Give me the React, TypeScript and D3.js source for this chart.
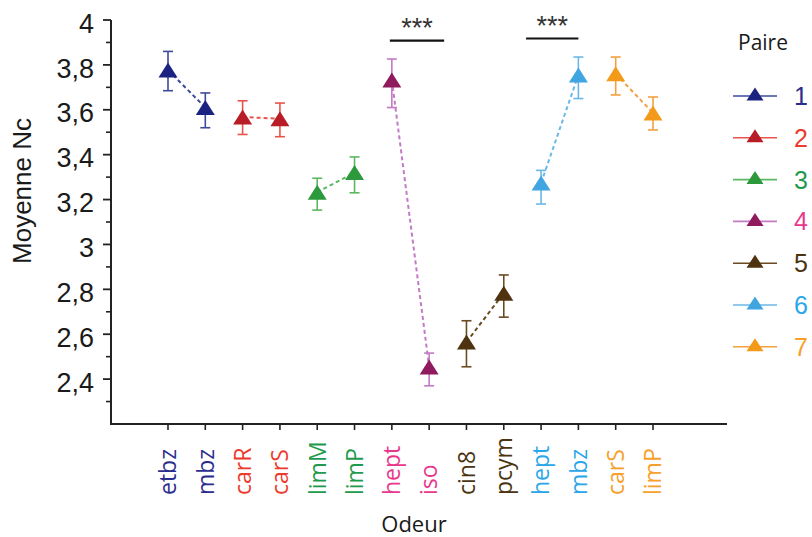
import React from "react";
import * as d3 from "d3";

const odeurs = ["etbz", "mbz", "carR", "carS", "limM", "limP", "hept", "iso", "cin8", "pcym", "hept", "mbz", "carS", "limP"];
const paires = [1, 1, 2, 2, 3, 3, 4, 4, 5, 5, 6, 6, 7, 7];
const moyennes = [3.777, 3.61, 3.568, 3.56, 3.233, 3.32, 3.733, 2.454, 2.565, 2.783, 3.274, 3.755, 3.76, 3.586];
const errHaut = [3.86, 3.675, 3.64, 3.63, 3.295, 3.39, 3.826, 2.516, 2.66, 2.864, 3.33, 3.835, 3.835, 3.657];
const errBas = [3.685, 3.52, 3.49, 3.48, 3.153, 3.23, 3.61, 2.37, 2.455, 2.676, 3.18, 3.65, 3.666, 3.51];
const paireLabels = ["1", "2", "3", "4", "5", "6", "7"];
const couleursMarqueur = ["#1b2380", "#b81d27", "#2c993d", "#8f1a5e", "#4f3311", "#41a5e2", "#f39a1a"];
const couleursLigne = ["#3d4a9c", "#e8534a", "#5cb860", "#c27ac4", "#6a4a20", "#6ab8e8", "#f4a040"];
const couleursTexte = ["#2b2d8e", "#ec3a2e", "#1f9a4d", "#e8388c", "#4a3410", "#2ba6e8", "#f7a02c"];
const yTicksMajeurs = [2.4, 2.6, 2.8, 3, 3.2, 3.4, 3.6, 3.8, 4];
const yTicksMineurs = [2.3, 2.5, 2.7, 2.9, 3.1, 3.3, 3.5, 3.7, 3.9];
const significatifs = [
  { a: 6, b: 7, label: "***" },
  { a: 10, b: 11, label: "***" },
];

const W = 812;
const H = 537;

function triangle(cx: number, cy: number, w: number, h: number) {
  const p = d3.path();
  p.moveTo(cx, cy - h / 2);
  p.lineTo(cx + w / 2, cy + h / 2);
  p.lineTo(cx - w / 2, cy + h / 2);
  p.closePath();
  return p.toString();
}

export default function App() {
  const x = d3.scaleLinear().domain([0, odeurs.length - 1]).range([168, 653]);
  const y = d3.scaleLinear().domain([2.2, 4]).range([424, 20]);
  const fmt = (v: number) => d3.format("~g")(v).replace(".", ",");
  const axisFont = "'Liberation Sans', Arial, sans-serif";
  const labelFont = "'Open Sans', 'Noto Sans', sans-serif";

  const paireIds = Array.from(new Set(paires));
  const line = d3
    .line<number>()
    .x((i) => x(i))
    .y((i) => y(moyennes[i]));

  const sigOffsets = [
    { x0: -2, x1: 15, yLine: 40.7, yText: 37 },
    { x0: -15, x1: 0, yLine: 38.5, yText: 34.5 },
  ];

  return (
    <svg width={W} height={H} style={{ position: "absolute", left: 0, top: 0, background: "#fff" }}>
      {/* Y axis */}
      <line x1={111} x2={111} y1={y(4)} y2={y(2.2) + 1} stroke="#222" strokeWidth={2} />
      {yTicksMajeurs.map((t) => (
        <g key={"M" + t}>
          <line x1={103} x2={111} y1={y(t)} y2={y(t)} stroke="#222" strokeWidth={1.8} />
          <text x={94} y={y(t) + 3} dy="0.36em" textAnchor="end" fontFamily={axisFont} fontSize={27} fill="#1a1a1a">
            {fmt(t)}
          </text>
        </g>
      ))}
      {yTicksMineurs.map((t) => (
        <line key={"m" + t} x1={106} x2={111} y1={y(t)} y2={y(t)} stroke="#222" strokeWidth={1.6} />
      ))}
      <text
        transform={`translate(31,191) rotate(-90)`}
        textAnchor="middle"
        fontFamily={axisFont}
        fontSize={26}
        fill="#1a1a1a"
      >
        Moyenne Nc
      </text>

      {/* X axis */}
      <line x1={110} x2={727} y1={y(2.2)} y2={y(2.2)} stroke="#222" strokeWidth={2} />
      {odeurs.map((o, i) => (
        <g key={"x" + i}>
          <line x1={x(i)} x2={x(i)} y1={y(2.2)} y2={y(2.2) + 6} stroke="#222" strokeWidth={1.6} />
          <text
            transform={`translate(${x(i)},495) rotate(-90)`}
            dy="0.36em"
            textAnchor="start"
            fontFamily={labelFont}
            fontSize={23}
            fill={couleursTexte[paires[i] - 1]}
          >
            {o}
          </text>
        </g>
      ))}
      <text x={414} y={532} textAnchor="middle" fontFamily={labelFont} fontSize={22} fill="#1a1a1a">
        Odeur
      </text>

      {/* dashed pair lines */}
      {paireIds.map((p) => {
        const idx = paires.map((q, i) => (q === p ? i : -1)).filter((i) => i >= 0);
        return (
          <path
            key={"l" + p}
            d={line(idx) || ""}
            fill="none"
            stroke={couleursLigne[p - 1]}
            strokeWidth={2}
            strokeDasharray="4 3"
          />
        );
      })}

      {/* error bars */}
      {moyennes.map((m, i) => {
        const c = couleursLigne[paires[i] - 1];
        return (
          <g key={"e" + i} stroke={c} strokeWidth={1.6}>
            <line x1={x(i)} x2={x(i)} y1={y(errHaut[i])} y2={y(errBas[i])} />
            <line x1={x(i) - 5} x2={x(i) + 5} y1={y(errHaut[i])} y2={y(errHaut[i])} />
            <line x1={x(i) - 5} x2={x(i) + 5} y1={y(errBas[i])} y2={y(errBas[i])} />
          </g>
        );
      })}

      {/* markers */}
      {moyennes.map((m, i) => (
        <path key={"t" + i} d={triangle(x(i), y(m), 19, 15)} fill={couleursMarqueur[paires[i] - 1]} />
      ))}

      {/* significance */}
      {significatifs.map((s, k) => {
        const o = sigOffsets[k];
        const x0 = x(s.a) + o.x0;
        const x1 = x(s.b) + o.x1;
        return (
          <g key={"s" + k}>
            <line x1={x0} x2={x1} y1={o.yLine} y2={o.yLine} stroke="#111" strokeWidth={2.2} />
            <text x={(x0 + x1) / 2} y={o.yText} textAnchor="middle" fontFamily={axisFont} fontSize={27} fill="#333">
              {s.label}
            </text>
          </g>
        );
      })}

      {/* legend */}
      <text x={763} y={50} textAnchor="middle" fontFamily={labelFont} fontSize={21} fill="#1a1a1a">
        Paire
      </text>
      {paireLabels.map((lab, k) => {
        const cy = 96 + k * 41.8;
        return (
          <g key={"lg" + k}>
            <line x1={733} x2={777} y1={cy} y2={cy} stroke={couleursLigne[k]} strokeWidth={1.6} />
            <path d={triangle(755, cy - 2, 17, 13)} fill={couleursMarqueur[k]} />
            <text x={794} y={cy} dy="0.36em" fontFamily={axisFont} fontSize={25} fill={couleursTexte[k]}>
              {lab}
            </text>
          </g>
        );
      })}
    </svg>
  );
}
